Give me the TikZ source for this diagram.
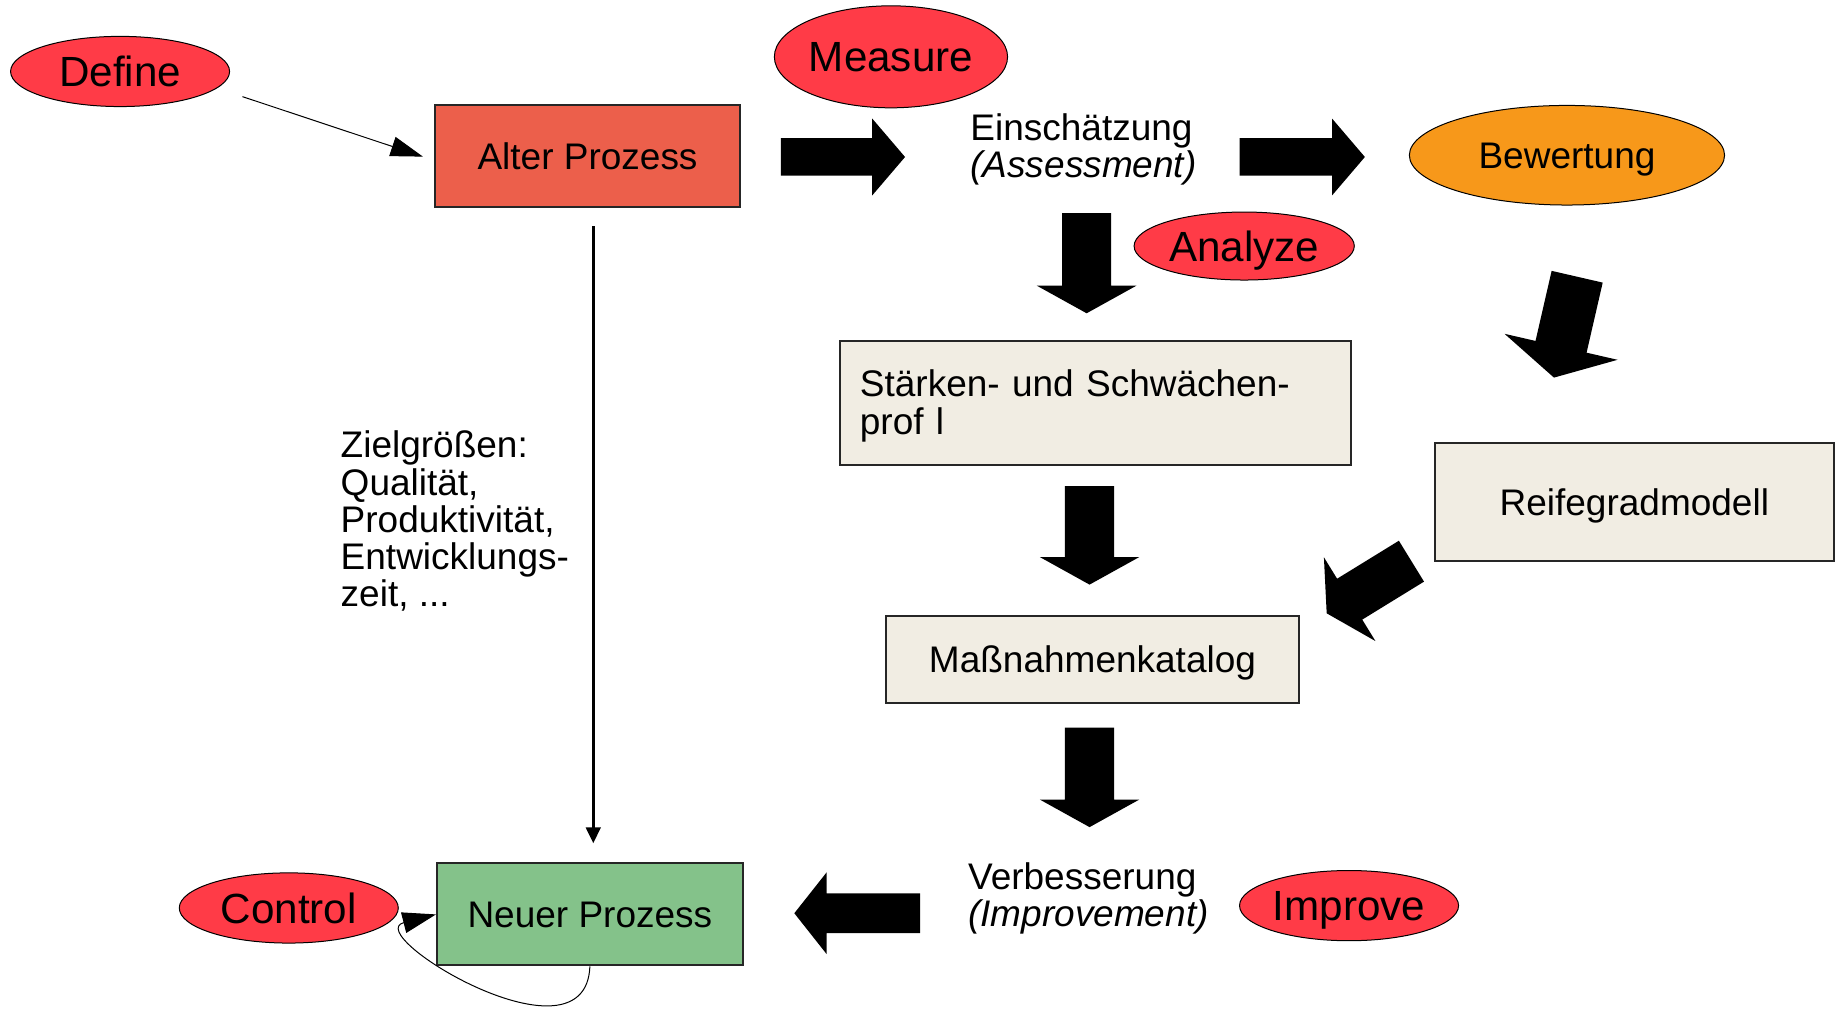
\documentclass[tikz,border=0pt]{standalone}
\usepackage{fontspec}
\setmainfont{Liberation Sans}
\usetikzlibrary{arrows.meta, shapes.geometric, calc}
\definecolor{lblred}{HTML}{FF3B47}
\definecolor{oldred}{HTML}{EC5F4B}
\definecolor{orng}{HTML}{F7981A}
\definecolor{newgreen}{HTML}{84C28A}
\definecolor{beige}{HTML}{F1EDE3}
% block arrow: #1 start, #2 tip, #3 half shaft width, #4 half head width, #5 head length
\newcommand\blockarr[5]{%
  \coordinate (tmpb) at ($(#2)!#5!(#1)$);
  \fill[fatarrow] ($(#1)!#3!90:(#2)$) -- ($(tmpb)!#3!-90:(#1)$) -- ($(tmpb)!#4!-90:(#1)$)
    -- (#2) -- ($(tmpb)!#4!90:(#1)$) -- ($(tmpb)!#3!90:(#1)$) -- ($(#1)!#3!-90:(#2)$) -- cycle;}
\begin{document}
\begin{tikzpicture}[x=0.5858pt, y=-0.5858pt,
  phase/.style={ellipse, draw=black, line width=0.5pt, fill=lblred, inner sep=0pt,
    font=\fontsize{21.1}{24}\selectfont, text height=15.1pt, text depth=0pt},
  procbox/.style={rectangle, draw=black!85, line width=1pt, inner sep=0pt,
    font=\fontsize{18.5}{18.6}\selectfont, text height=13.25pt, text depth=0pt},
  plaintext/.style={inner sep=0pt, font=\fontsize{18.5}{18.6}\selectfont, align=left},
  fatarrow/.style={fill=black},
  thinarrow/.style={draw=black, line width=0.5pt},
]
\fill[white] (0,0) rectangle (1568,861);
\useasboundingbox (0,0) rectangle (1568,861);

% ellipses
\node[phase, minimum width=109.5pt, minimum height=35.1pt] (def) at (102.5,61) {Define};
\node[phase, minimum width=116.6pt, minimum height=51.0pt] (mea) at (760.5,48.5) {Measure};
\node[phase, minimum width=110.1pt, minimum height=34.0pt] (ana) at (1062,210) {Analyze};
\node[phase, fill=orng, minimum width=157.6pt, minimum height=49.8pt,
  font=\fontsize{18.5}{18.6}\selectfont, text height=13.25pt] (bew) at (1337.5,132.5) {Bewertung};
\node[phase, minimum width=109.5pt, minimum height=35.1pt] (con) at (246.5,775) {Control};
\node[phase, minimum width=109.5pt, minimum height=35.1pt] (imp) at (1151.5,773) {Improve};

% boxes
\node[procbox, fill=oldred, minimum width=152.9pt, minimum height=51.0pt] (alt) at (501.5,133.5) {Alter Prozess};
\node[procbox, fill=newgreen, minimum width=152.9pt, minimum height=51.0pt] (neu) at (503.5,780.5) {Neuer Prozess};
\node[rectangle, draw=black!85, line width=1pt, fill=beige, inner xsep=10pt, inner ysep=0pt,
  text width=235.5pt, align=left, minimum height=62.1pt,
  font=\fontsize{18.5}{18.6}\selectfont] (sta) at (935,344) {\rule{0pt}{16.3pt}Stärken- und Schwächen-\\prof l};
\node[procbox, fill=beige, minimum width=199.2pt, minimum height=59.2pt] (rei) at (1395,428.5) {Reifegradmodell};
\node[procbox, fill=beige, minimum width=206.8pt, minimum height=43.3pt] (mas) at (932.5,563) {Maßnahmenkatalog};

% plain texts
\node[plaintext, anchor=west] (ein) at (828,127.5) {Einschätzung\\\textit{(Assessment)}};
\node[plaintext, anchor=west] (ver) at (826,767) {Verbesserung\\\textit{(Improvement)}};
\node[plaintext, anchor=west] (ziel) at (290.5,445) {Zielgrößen:\\Qualität,\\Produktivität,\\Entwicklungs-\\zeit, ...};

% coordinates for connector ends
\coordinate (defs) at (207,82.5);
\coordinate (alte) at (361,133.7);
\coordinate (altb) at (506.4,193);
\coordinate (neut) at (506.4,719.8);
\coordinate (a1s) at (666.6,134);  \coordinate (a1e) at (772.5,134);
\coordinate (a2s) at (1058,134);   \coordinate (a2e) at (1165,134);
\coordinate (a3s) at (927.5,182);  \coordinate (a3e) at (927.5,267.4);
\coordinate (a4s) at (930,415);    \coordinate (a4e) at (930,499);
\coordinate (a5s) at (930,621);    \coordinate (a5e) at (930,706);
\coordinate (a6s) at (785.3,779.5); \coordinate (a6e) at (678,779.5);
\coordinate (a7s) at (1346.2,236.2); \coordinate (a7e) at (1326.4,322.3);
\coordinate (a8s) at (1204.75,479); \coordinate (a8e) at (1132.4,523.5);

% thin connectors
\draw[thinarrow, -{Triangle[length=16.1pt, width=10pt]}] (defs) -- (alte);
\draw[draw=black, line width=1.5pt, -{Triangle[length=8pt, width=7.3pt]}] (altb) -- (neut);
\draw[thinarrow, -{Triangle[length=16.7pt, width=10.5pt]}] (neu.south) .. controls (500,915) and (307,797.1) .. (neu.west);

% block arrows
\blockarr{a1s}{a1e}{9.375pt}{19.2pt}{16.4pt}
\blockarr{a2s}{a2e}{9.375pt}{19.2pt}{16.4pt}
\blockarr{a3s}{a3e}{12.3pt}{24.9pt}{13.8pt}
\blockarr{a4s}{a4e}{12.3pt}{24.9pt}{13.8pt}
\blockarr{a5s}{a5e}{12.3pt}{24.9pt}{13.8pt}
\blockarr{a6s}{a6e}{9.95pt}{20.5pt}{16.2pt}
\blockarr{a7s}{a7e}{13.1pt}{29pt}{15.8pt}
\blockarr{a8s}{a8e}{12pt}{24.6pt}{13.5pt}
\end{tikzpicture}
\end{document}
